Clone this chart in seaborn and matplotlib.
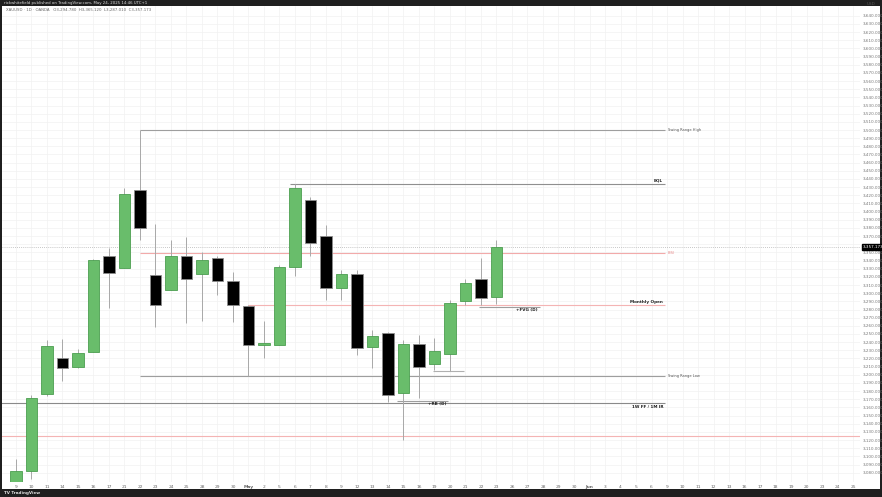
import matplotlib
matplotlib.use("Agg")
import matplotlib.pyplot as plt
import matplotlib.transforms as mtransforms
import seaborn as sns

# daily candles, Apr 9 -> May 23
opens  = [2982, 3082, 3177, 3220, 3210, 3228, 3346, 3331, 3426, 3322, 3304, 3346, 3324, 3343, 3315, 3284,
          3237, 3236, 3332, 3414, 3370, 3306, 3324, 3234, 3251, 3178, 3238, 3213, 3225, 3290, 3317, 3295]
highs  = [3097, 3175, 3243, 3244, 3231, 3342, 3356, 3429, 3500, 3385, 3365, 3369, 3351, 3346, 3326, 3285,
          3266, 3335, 3434, 3418, 3384, 3328, 3328, 3255, 3252, 3243, 3249, 3245, 3292, 3317, 3343, 3365]
lows   = [2957, 3072, 3174, 3192, 3208, 3228, 3282, 3331, 3365, 3258, 3304, 3263, 3266, 3298, 3265, 3199,
          3220, 3236, 3321, 3345, 3292, 3292, 3224, 3208, 3167, 3120, 3172, 3206, 3205, 3286, 3286, 3287]
closes = [3082, 3172, 3235, 3208, 3227, 3341, 3325, 3422, 3380, 3286, 3346, 3317, 3341, 3315, 3286, 3236,
          3239, 3332, 3429, 3362, 3306, 3324, 3233, 3248, 3175, 3238, 3210, 3229, 3288, 3312, 3294, 3357]

day_labels = ["9", "10", "11", "14", "15", "16", "17", "21", "22", "23", "24", "25", "28", "29", "30",
              "May", "2", "5", "6", "7", "8", "9", "12", "13", "14", "15", "16", "19", "20", "21", "22", "23",
              "26", "27", "28", "29", "30", "Jun", "3", "4", "5", "6", "9", "10", "11", "12", "13",
              "16", "17", "18", "19", "20", "23", "24", "25"]

last_price = 3357.173

# drawn levels: (price, start bar, end bar, colour, label, label style)
levels = [
    (3500, 8, 41.9, "#9e9e9e", "Swing Range High", "after"),
    (3434, 17.7, 41.9, "#8f8f8f", "EQL", "above"),
    (3349, 8, 41.9, "#f2aaaa", "BISI", "after_pink"),
    (3285, 15, 41.9, "#f4b4b4", "Monthly Open", "above"),
    (3283, 29.9, 33.8, "#9e9e9e", "+FVG (D)", "below"),
    (3205, 26.9, 28.9, "#b0b0b0", "", ""),
    (3199, 8, 41.9, "#9e9e9e", "Swing Range Low", "after"),
    (3168, 24.6, 27.9, "#9e9e9e", "+RB (D)", "below"),
    (3165, -1, 41.9, "#8a8a8a", "1W FF / 1M IR", "below"),
    (3125, -1, 60, "#f4b4b4", "", ""),
]

sns.set_style("whitegrid", {"grid.color": "#f1f1f1", "axes.edgecolor": "#ffffff"})
plt.rcParams["font.family"] = ["DejaVu Sans"]

W, H = 882, 497
fig = plt.figure(figsize=(W / 100, H / 100), dpi=100)
fig.patch.set_facecolor("#1f1f1f")

# white panel behind plot and price scale
bg = fig.add_axes([2 / W, 8 / H, 878 / W, 483 / H])
bg.set_facecolor("white")
bg.set_xticks([]); bg.set_yticks([])
for s in bg.spines.values():
    s.set_visible(False)

ax = fig.add_axes([2 / W, (H - 482) / H, 858 / W, 476 / H])
ax.set_facecolor("white")

green, green_edge = "#69bd6b", "#4c9e50"
for i, (o, h, l, c) in enumerate(zip(opens, highs, lows, closes)):
    up = c >= o
    ax.vlines(i, l, h, color="#a8a8a8", lw=0.7, zorder=2)
    body = max(abs(c - o), 1.2)
    ax.bar(i, body, bottom=min(o, c), width=0.76, color=green if up else "black",
           edgecolor=green_edge if up else "#8c8c8c", lw=0.6, zorder=3)

for price, x0, x1, col, label, style in levels:
    ax.hlines(price, x0, x1, color=col, lw=0.8, zorder=1)
    if style == "after":
        ax.text(x1 + 0.15, price, label, fontsize=2.6, color="#555555", va="center", ha="left")
    elif style == "after_pink":
        ax.text(x1 + 0.15, price, label, fontsize=2.6, color="#e88a8a", va="center", ha="left")
    elif style == "above":
        ax.text(x1 - 0.15, price + 1.5, label, fontsize=3.0, color="#222222", fontweight="bold",
                va="bottom", ha="right")
    elif style == "below":
        ax.text(x1 - 0.15, price - 1.5, label, fontsize=3.0, color="#222222", fontweight="bold",
                va="top", ha="right")

# current price line
ax.axhline(last_price, color="#b5b5b5", lw=0.6, ls=(0, (1, 1.5)), zorder=1)

ax.set_xlim(-0.9, 54.45)
ax.set_ylim(3068.6, 3652)
ax.set_xticks(range(len(day_labels)))
ax.set_xticklabels(day_labels, fontsize=3.2, color="#666666")
for t, lab in zip(ax.get_xticklabels(), day_labels):
    if lab in ("May", "Jun"):
        t.set_fontweight("bold")
yt = list(range(3080, 3641, 10))
ax.set_yticks(yt)
# the price tag hides the scale label right next to it
ax.set_yticklabels(["" if abs(v - last_price) < 5 else f"{v:,.3f}" for v in yt],
                   fontsize=3.0, color="#777777")
ax.yaxis.tick_right()
ax.tick_params(axis="both", length=0, pad=2)
ax.grid(True, color="#f1f1f1", lw=0.5)
for s in ax.spines.values():
    s.set_visible(False)

# price tag
tr = mtransforms.blended_transform_factory(ax.transAxes, ax.transData)
ax.text(1.003, last_price, f"{last_price:,.3f}", transform=tr, fontsize=3.0, color="white",
        va="center", ha="left", bbox=dict(boxstyle="square,pad=0.25", fc="black", ec="black"), zorder=5)
ax.text(1.008, 1.0, "USD", transform=ax.transAxes, fontsize=3.0, color="#555555", va="bottom", ha="left")

# header / footer
fig.text(4 / W, 1 - 3 / H, "rickwhitefield published on TradingView.com, May 24, 2025 14:46 UTC+1",
         fontsize=2.8, color="#dddddd", va="center")
fig.text(6 / W, 1 - 10 / H, "XAUUSD · 1D · OANDA   O3,294.780  H3,365.120  L3,287.010  C3,357.173",
         fontsize=2.8, color="#666666", va="center")
fig.text(4 / W, 4 / H, "TV TradingView", fontsize=3.0, color="#e0e0e0", fontweight="bold", va="center")

fig.savefig("out.png", dpi=100, facecolor=fig.get_facecolor())
